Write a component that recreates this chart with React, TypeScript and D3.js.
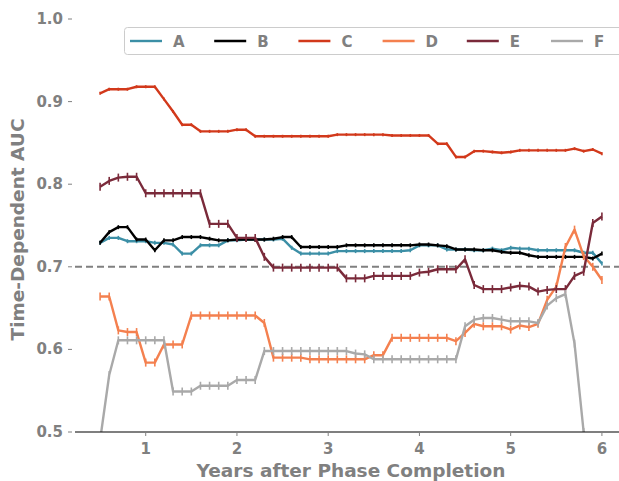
import React from "react";
import * as d3 from "d3";

// years after completion, 0.5 .. 6.0 in steps of 0.1
const years = [
  0.5, 0.6, 0.7, 0.8, 0.9, 1.0, 1.1, 1.2, 1.3, 1.4, 1.5, 1.6, 1.7, 1.8, 1.9,
  2.0, 2.1, 2.2, 2.3, 2.4, 2.5, 2.6, 2.7, 2.8, 2.9, 3.0, 3.1, 3.2, 3.3, 3.4,
  3.5, 3.6, 3.7, 3.8, 3.9, 4.0, 4.1, 4.2, 4.3, 4.4, 4.5, 4.6, 4.7, 4.8, 4.9,
  5.0, 5.1, 5.2, 5.3, 5.4, 5.5, 5.6, 5.7, 5.8, 5.9, 6.0,
];

const seriesA = [
  0.729, 0.735, 0.735, 0.731, 0.731, 0.731, 0.729, 0.729, 0.727, 0.716, 0.716,
  0.726, 0.726, 0.726, 0.732, 0.732, 0.733, 0.733, 0.733, 0.733, 0.734, 0.723,
  0.716, 0.716, 0.716, 0.716, 0.719, 0.719, 0.719, 0.719, 0.719, 0.719, 0.719,
  0.719, 0.72, 0.726, 0.726, 0.726, 0.721, 0.721, 0.721, 0.72, 0.72, 0.722,
  0.72, 0.723, 0.722, 0.722, 0.72, 0.72, 0.72, 0.72, 0.72, 0.717, 0.717, 0.704,
];

const seriesB = [
  0.729, 0.742, 0.748, 0.748, 0.733, 0.733, 0.72, 0.732, 0.732, 0.736, 0.736,
  0.736, 0.734, 0.732, 0.732, 0.733, 0.733, 0.733, 0.733, 0.734, 0.736, 0.736,
  0.724, 0.724, 0.724, 0.724, 0.724, 0.726, 0.726, 0.726, 0.726, 0.726, 0.726,
  0.726, 0.726, 0.727, 0.727, 0.726, 0.725, 0.721, 0.721, 0.721, 0.72, 0.72,
  0.718, 0.717, 0.717, 0.714, 0.712, 0.712, 0.712, 0.712, 0.712, 0.712, 0.71,
  0.716,
];

const seriesC = [
  0.91, 0.915, 0.915, 0.915, 0.918, 0.918, 0.918, 0.903, 0.888, 0.872, 0.872,
  0.864, 0.864, 0.864, 0.864, 0.866, 0.866, 0.858, 0.858, 0.858, 0.858, 0.858,
  0.858, 0.858, 0.858, 0.858, 0.86, 0.86, 0.86, 0.86, 0.86, 0.86, 0.859, 0.859,
  0.859, 0.859, 0.859, 0.849, 0.849, 0.833, 0.833, 0.84, 0.84, 0.839, 0.838,
  0.839, 0.841, 0.841, 0.841, 0.841, 0.841, 0.841, 0.843, 0.84, 0.842, 0.837,
];

const seriesD = [
  0.664, 0.664, 0.623, 0.621, 0.621, 0.584, 0.584, 0.606, 0.606, 0.606, 0.641,
  0.641, 0.641, 0.641, 0.641, 0.641, 0.641, 0.641, 0.632, 0.59, 0.59, 0.59,
  0.59, 0.588, 0.588, 0.588, 0.588, 0.588, 0.588, 0.588, 0.593, 0.593, 0.614,
  0.614, 0.614, 0.614, 0.614, 0.614, 0.614, 0.61, 0.62, 0.631, 0.628, 0.628,
  0.628, 0.624, 0.629, 0.627, 0.631, 0.66, 0.676, 0.724, 0.745, 0.713, 0.7,
  0.684,
];

const seriesE = [
  0.797, 0.804, 0.808, 0.809, 0.809, 0.789, 0.789, 0.789, 0.789, 0.789, 0.789,
  0.789, 0.752, 0.752, 0.752, 0.735, 0.735, 0.735, 0.712, 0.699, 0.699, 0.699,
  0.699, 0.699, 0.699, 0.699, 0.699, 0.686, 0.686, 0.686, 0.689, 0.689, 0.689,
  0.689, 0.689, 0.693, 0.694, 0.697, 0.697, 0.697, 0.709, 0.678, 0.673, 0.673,
  0.673, 0.675, 0.677, 0.676, 0.67, 0.672, 0.673, 0.673, 0.689, 0.694, 0.753,
  0.761,
];

const seriesF = [
  0.49, 0.569, 0.611, 0.611, 0.611, 0.611, 0.611, 0.611, 0.549, 0.549, 0.549,
  0.556, 0.556, 0.556, 0.556, 0.563, 0.563, 0.563, 0.598, 0.598, 0.598, 0.598,
  0.598, 0.598, 0.598, 0.598, 0.598, 0.598, 0.595, 0.594, 0.588, 0.588, 0.588,
  0.588, 0.588, 0.588, 0.588, 0.588, 0.588, 0.588, 0.628, 0.636, 0.638, 0.638,
  0.636, 0.634, 0.634, 0.634, 0.632, 0.653, 0.662, 0.667, 0.607, 0.5, 0.45,
  0.42,
];

const seriesNames = ["A", "B", "C", "D", "E", "F"];
const seriesColors = ["#3c8fa6", "#000000", "#d2391b", "#f4804f", "#7a2a3a", "#a9a9a9"];
const seriesValues = [seriesA, seriesB, seriesC, seriesD, seriesE, seriesF];
const markerSizes = [4, 4, 3, 8, 8, 8];

const yTicks = [0.5, 0.6, 0.7, 0.8, 0.9, 1.0];
const xTicks = [1, 2, 3, 4, 5, 6];

const W = 619;
const H = 481;
const left = 75;
const top = 19;
const bottom = 432;

export default function App() {
  const x = d3.scaleLinear().domain([0.225, 6.275]).range([left, 627]);
  const y = d3.scaleLinear().domain([0.5, 1.0]).range([bottom, top]);
  const line = d3
    .line<number>()
    .x((_, i) => x(years[i]))
    .y((d) => y(d));

  const font = "DejaVu Sans, sans-serif";
  const grey = "#808080";

  return (
    <svg
      width={W}
      height={H}
      style={{ position: "absolute", left: 0, top: 0, background: "#fff" }}
      fontFamily={font}
    >
      <defs>
        <clipPath id="plot">
          <rect x={left} y={0} width={W - left} height={bottom - 0} />
        </clipPath>
      </defs>

      {/* reference line at 0.7 */}
      <line
        x1={left}
        x2={W}
        y1={y(0.7)}
        y2={y(0.7)}
        stroke={grey}
        strokeWidth={2}
        strokeDasharray="7,4"
      />

      <g clipPath="url(#plot)">
        {seriesValues.map((vals, si) => (
          <g key={seriesNames[si]}>
            <path
              d={line(vals) || ""}
              fill="none"
              stroke={seriesColors[si]}
              strokeWidth={2.4}
              strokeLinejoin="round"
            />
            {vals.map((v, i) => (
              <line
                key={i}
                x1={x(years[i])}
                x2={x(years[i])}
                y1={y(v) - markerSizes[si] / 2}
                y2={y(v) + markerSizes[si] / 2}
                stroke={seriesColors[si]}
                strokeWidth={1.6}
              />
            ))}
          </g>
        ))}
      </g>

      {/* bottom axis */}
      <line x1={left} x2={W} y1={bottom} y2={bottom} stroke="#000" strokeWidth={1.2} />
      {xTicks.map((t) => (
        <g key={t}>
          <line x1={x(t)} x2={x(t)} y1={bottom} y2={bottom + 4} stroke={grey} strokeWidth={1} />
          <text
            x={x(t)}
            y={bottom + 22}
            textAnchor="middle"
            fontSize={15}
            fontWeight="bold"
            fill={grey}
          >
            {t}
          </text>
        </g>
      ))}

      {/* left ticks */}
      {yTicks.map((t) => (
        <g key={t}>
          <line x1={left - 7} x2={left - 3} y1={y(t)} y2={y(t)} stroke={grey} strokeWidth={1} />
          <text
            x={left - 12}
            y={y(t) + 5}
            textAnchor="end"
            fontSize={15}
            fontWeight="bold"
            fill={grey}
          >
            {t.toFixed(1)}
          </text>
        </g>
      ))}

      <text
        x={351}
        y={477}
        textAnchor="middle"
        fontSize={18.5}
        fontWeight="bold"
        fill={grey}
      >
        Years after Phase Completion
      </text>
      <text
        transform={`translate(24, ${(top + bottom) / 2 + 4}) rotate(-90)`}
        textAnchor="middle"
        fontSize={18.5}
        fontWeight="bold"
        fill={grey}
      >
        Time-Dependent AUC
      </text>

      {/* legend */}
      <rect x={124.5} y={27.5} width={510} height={27} rx={3} fill="#fff" stroke="#cccccc" strokeWidth={1} />
      {seriesNames.map((n, i) => {
        const lx = 130 + i * 84.2;
        return (
          <g key={n}>
            <line x1={lx} x2={lx + 32} y1={41} y2={41} stroke={seriesColors[i]} strokeWidth={2.4} />
            <text x={lx + 43} y={46.5} fontSize={15} fontWeight="bold" fill={grey}>
              {n}
            </text>
          </g>
        );
      })}
    </svg>
  );
}
